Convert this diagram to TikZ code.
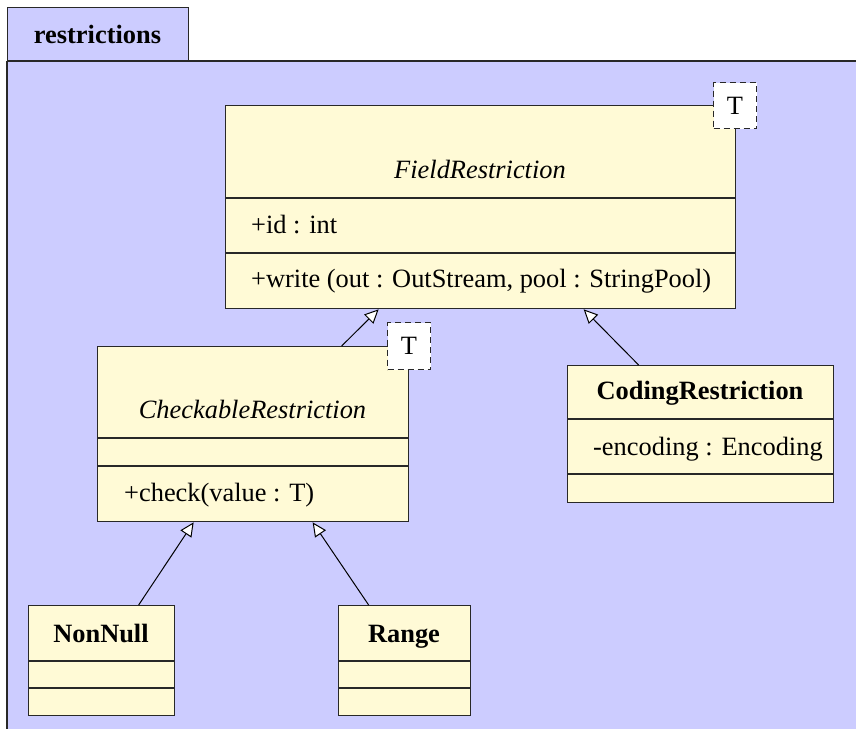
\documentclass[tikz,border=0pt]{standalone}
\usepackage{fontspec}
\setmainfont{Liberation Serif}
\usetikzlibrary{arrows.meta}
\definecolor{pkgbg}{RGB}{204,204,255}
\definecolor{clsfill}{RGB}{255,250,214}
\definecolor{edgec}{RGB}{40,40,40}
\tikzset{
  cls/.style={rectangle, draw=edgec, fill=clsfill, line width=1.3pt, inner sep=0pt, anchor=north west},
  divider/.style={draw=edgec, line width=1.2pt},
  tparam/.style={rectangle, draw=edgec, dash pattern=on 6pt off 4pt, fill=white, line width=1.1pt, inner sep=0pt, minimum width=43pt, minimum height=46pt, anchor=north west, font=\fontsize{26.4}{30}\selectfont},
  gen/.style={draw=black, line width=1pt, -{Triangle[length=14pt, width=13pt, fill=white]}},
  lbl/.style={inner sep=0pt, font=\fontsize{26.4}{30}\selectfont},
  pkgline/.style={draw=edgec, line width=1.3pt},
}
\begin{document}
\begin{tikzpicture}[x=1pt, y=-1pt]
\useasboundingbox (0,0) rectangle (856,729);
% package
\fill[pkgbg] (7,61) rectangle (856,729);
\node[rectangle, draw=edgec, fill=pkgbg, line width=1.3pt, inner sep=0pt, minimum width=181pt, minimum height=54pt, anchor=north west] (tab) at (7,7) {};
\node[lbl, anchor=base, font=\fontsize{26.4}{30}\selectfont\bfseries] (tabtxt) at (97.5,43) {restrictions};
\draw[pkgline] (7,61) -- (856,61);
\draw[pkgline] (7,61) -- (7,729);

% FieldRestriction
\node[cls, minimum width=510pt, minimum height=203pt] (field) at (225,105) {};
\draw[divider] (field.west |- 0,198) -- (field.east |- 0,198);
\draw[divider] (field.west |- 0,253) -- (field.east |- 0,253);
\node[lbl, anchor=base, font=\fontsize{26.4}{30}\selectfont\itshape] (fieldname) at (480,178) {FieldRestriction};
\node[lbl, anchor=base west] (fieldattr) at (251,233) {+id : int};
\node[lbl, anchor=base west] (fieldop) at (251,287) {+write (out : OutStream, pool : StringPool)};
\node[tparam] (fieldT) at (713,82) {T};

% CheckableRestriction
\node[cls, minimum width=311pt, minimum height=175pt] (check) at (97,346) {};
\draw[divider] (check.west |- 0,438) -- (check.east |- 0,438);
\draw[divider] (check.west |- 0,466) -- (check.east |- 0,466);
\node[lbl, anchor=base, font=\fontsize{26.4}{30}\selectfont\itshape] (checkname) at (252.5,418) {CheckableRestriction};
\node[lbl, anchor=base west] (checkop) at (124,501) {+check(value : T)};
\node[tparam, minimum height=47pt] (checkT) at (387,322) {T};

% CodingRestriction
\node[cls, minimum width=266pt, minimum height=137pt] (coding) at (567,365) {};
\draw[divider] (coding.west |- 0,419) -- (coding.east |- 0,419);
\draw[divider] (coding.west |- 0,474) -- (coding.east |- 0,474);
\node[lbl, anchor=base, font=\fontsize{26.4}{30}\selectfont\bfseries] (codingname) at (700,399) {CodingRestriction};
\node[lbl, anchor=base west] (codingattr) at (593,455) {-encoding : Encoding};

% NonNull
\node[cls, minimum width=146pt, minimum height=110pt] (nonnull) at (28,605) {};
\draw[divider] (nonnull.west |- 0,661) -- (nonnull.east |- 0,661);
\draw[divider] (nonnull.west |- 0,688) -- (nonnull.east |- 0,688);
\node[lbl, anchor=base, font=\fontsize{26.4}{30}\selectfont\bfseries] (nonnullname) at (101,642) {NonNull};

% Range
\node[cls, minimum width=132pt, minimum height=110pt] (range) at (338,605) {};
\draw[divider] (range.west |- 0,661) -- (range.east |- 0,661);
\draw[divider] (range.west |- 0,688) -- (range.east |- 0,688);
\node[lbl, anchor=base, font=\fontsize{26.4}{30}\selectfont\bfseries] (rangename) at (404,642) {Range};

% generalizations
\draw[gen] ([xshift=88.5pt]check.north) -- ([xshift=-102pt]field.south);
\draw[gen] ([xshift=-62pt]coding.north) -- ([xshift=103pt]field.south);
\draw[gen] ([xshift=37pt]nonnull.north) -- ([xshift=-59.5pt]check.south);
\draw[gen] ([xshift=-36pt]range.north) -- ([xshift=59.5pt]check.south);
\end{tikzpicture}
\end{document}
